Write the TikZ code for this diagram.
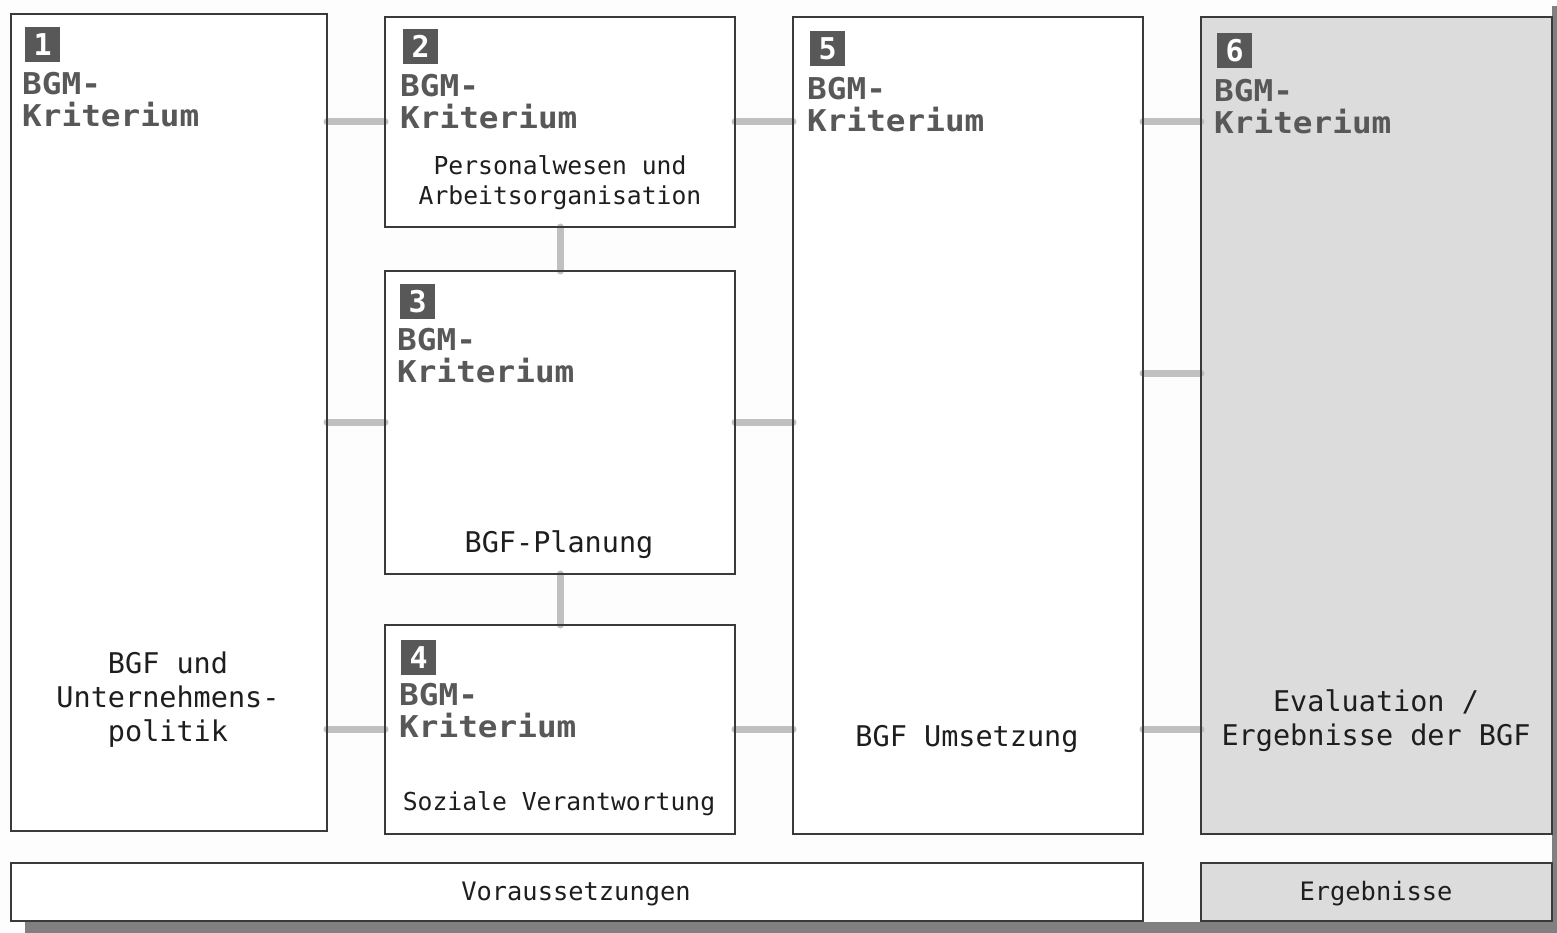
\documentclass[tikz,border=0pt]{standalone}
\usepackage{fontspec}
\newfontfamily\monof{DejaVu Sans Mono}
\newfontfamily\monowide[FakeStretch=1.09]{DejaVu Sans Mono}
\definecolor{bg}{HTML}{FDFDFD}
\definecolor{frame}{HTML}{3A3A3A}
\definecolor{conncol}{HTML}{C0C0C0}
\definecolor{shade}{HTML}{DCDCDC}
\definecolor{badgecol}{HTML}{585858}
\definecolor{headcol}{HTML}{585858}
\definecolor{txtcol}{HTML}{1E1E1E}
\definecolor{shadow}{HTML}{808080}
\tikzset{
  box/.style={draw=frame, line width=1.6pt, fill=white, anchor=north west, inner sep=0pt, outer sep=0pt},
  graybox/.style={box, fill=shade},
  conn/.style={draw=conncol, line width=7pt, line cap=round},
  badge/.style={fill=badgecol, text=white, anchor=north west, minimum width=35pt, minimum height=35pt, inner sep=0pt, font=\monof\bfseries\fontsize{30}{30}\selectfont},
  head/.style={anchor=north west, align=left, inner sep=0pt, text=headcol, font=\monowide\bfseries\fontsize{30}{32}\selectfont},
  body/.style={align=center, inner sep=0pt, text=txtcol, font=\monof\fontsize{28.5}{34}\selectfont},
  small/.style={align=center, inner sep=0pt, text=txtcol, font=\monof\fontsize{24.7}{30}\selectfont},
}
\begin{document}
\begin{tikzpicture}[x=1pt,y=-1pt]
\fill[bg] (0,0) rectangle (1557,933);
\useasboundingbox (0,0) rectangle (1557,933);
% drop shadow
\fill[shadow] (25,922) rectangle (1557,933);
\fill[shadow] (1552,6) rectangle (1557,933);
% boxes
\node[box, minimum width=316pt, minimum height=817pt] (b1) at (11,14) {};
\node[box, minimum width=350pt, minimum height=210pt] (b2) at (385,17) {};
\node[box, minimum width=350pt, minimum height=303pt] (b3) at (385,271) {};
\node[box, minimum width=350pt, minimum height=209pt] (b4) at (385,625) {};
\node[box, minimum width=350pt, minimum height=817pt] (b5) at (793,17) {};
\node[graybox, minimum width=351pt, minimum height=817pt] (b6) at (1201,17) {};
\node[box, minimum width=1132pt, minimum height=58pt] (v) at (11,863) {};
\node[graybox, minimum width=351pt, minimum height=58pt] (e) at (1201,863) {};
% connector rows
\coordinate (r1) at (0,122);
\coordinate (r2) at (0,422);
\coordinate (r3) at (0,373);
\coordinate (r4) at (0,729);
\draw[conn] (b1.east |- r1) -- (b2.west |- r1);
\draw[conn] (b2.east |- r1) -- (b5.west |- r1);
\draw[conn] (b5.east |- r1) -- (b6.west |- r1);
\draw[conn] (b1.east |- r2) -- (b3.west |- r2);
\draw[conn] (b3.east |- r2) -- (b5.west |- r2);
\draw[conn] (b5.east |- r3) -- (b6.west |- r3);
\draw[conn] (b1.east |- r4) -- (b4.west |- r4);
\draw[conn] (b4.east |- r4) -- (b5.west |- r4);
\draw[conn] (b5.east |- r4) -- (b6.west |- r4);
\coordinate (cx) at (560,0);
\draw[conn] (b2.south -| cx) -- (b3.north -| cx);
\draw[conn] (b3.south -| cx) -- (b4.north -| cx);
% redraw box frames over connector ends
\foreach \n in {b1,b2,b3,b4,b5,b6}{\draw[frame, line width=1.6pt] (\n.north west) rectangle (\n.south east);}
% badges
\node[badge] (n1) at (25,27) {1};
\node[badge] (n2) at (403,29) {2};
\node[badge] (n3) at (400,284) {3};
\node[badge] (n4) at (401,640) {4};
\node[badge] (n5) at (810,31) {5};
\node[badge] (n6) at (1217,33) {6};
% headers
\node[head] (h1) at (22,72) {BGM-\\Kriterium};
\node[head] (h2) at (400,74) {BGM-\\Kriterium};
\node[head] (h3) at (397,328) {BGM-\\Kriterium};
\node[head] (h4) at (399,683) {BGM-\\Kriterium};
\node[head] (h5) at (807,77) {BGM-\\Kriterium};
\node[head] (h6) at (1214,79) {BGM-\\Kriterium};
% body texts
\node[body] (t1) at (168,700) {BGF und\\Unternehmens-\\politik};
\node[small] (t2) at (560,183) {Personalwesen und\\Arbeitsorganisation};
\node[body] (t3) at (559,545) {BGF-Planung};
\node[small] (t4) at (559,804) {Soziale Verantwortung};
\node[body] (t5) at (967,739) {BGF Umsetzung};
\node[body] (t6) at (1376,721) {Evaluation /\\Ergebnisse der BGF};
\node[small, font=\monof\fontsize{25.4}{30}\selectfont] (tv) at (576,894) {Voraussetzungen};
\node[small, font=\monof\fontsize{25.4}{30}\selectfont] (te) at (1376,894) {Ergebnisse};
\end{tikzpicture}
\end{document}
